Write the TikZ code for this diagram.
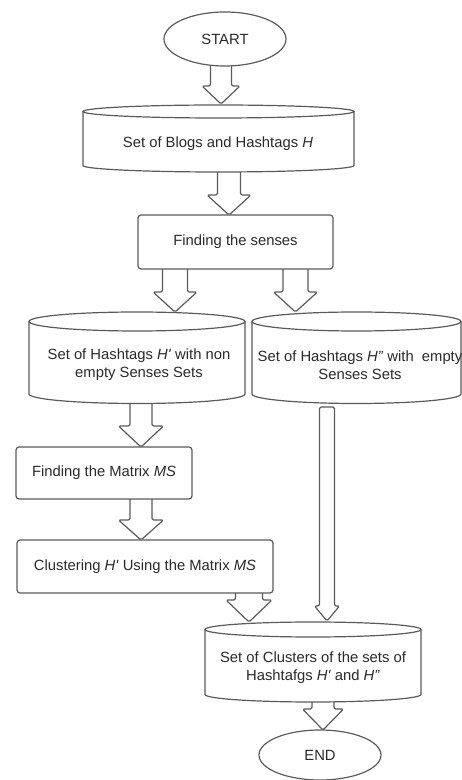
\documentclass[tikz,border=0pt]{standalone}
\usepackage{fontspec}
\setmainfont{Liberation Sans}
\usetikzlibrary{shapes.geometric,calc}

\definecolor{edge}{HTML}{5A5A5A}
\definecolor{ink}{HTML}{2A2A2A}

\tikzset{
  x=1pt, y=1pt,
  outline/.style={draw=edge, line width=1.2pt, fill=white},
  terminal/.style={outline, ellipse, inner sep=0pt, text=ink,
    font=\fontsize{14.8}{18}\selectfont},
  procbox/.style={outline, rectangle, rounded corners=3pt, inner sep=0pt,
    text=ink, font=\fontsize{14.8}{18}\selectfont},
  caption/.style={text=ink, font=\fontsize{14.8}{18}\selectfont,
    align=center, inner sep=0pt},
  flow/.style={outline, rounded corners=1.5pt, line join=round},
}

% storage drum: left x, right x, top centre y, bottom centre y, y radius
\newcommand{\drum}[5]{%
  \draw[outline] (#1,#3) -- (#1,#4)
    arc[start angle=180, end angle=360, x radius={(#2-#1)/2}, y radius=#5]
    -- (#2,#3);
  \draw[outline] ({(#1+#2)/2},#3)
    ellipse[x radius={(#2-#1)/2}, y radius=#5];
}

% block arrow: tail, tip, shaft half width, head half width, head length
\newcommand{\flowarrow}[5]{%
  \draw[flow] let \p1=(#1), \p2=(#2) in
    (\x2-#3pt,\y1) -- (\x2-#3pt,\y2+#5pt) -- (\x2-#4pt,\y2+#5pt)
    -- (\x2,\y2) -- (\x2+#4pt,\y2+#5pt) -- (\x2+#3pt,\y2+#5pt)
    -- (\x2+#3pt,\y1) -- cycle;
}

\newcommand{\Hp}{\textit{H\textquotesingle}}
\newcommand{\Hpp}{\textit{H"}}

\begin{document}
\begin{tikzpicture}
\useasboundingbox (0,0) rectangle (462,780);

% arrow end points
\coordinate (a1s) at (221,720);   \coordinate (a1t) at (221,676);
\coordinate (a2s) at (229,615);   \coordinate (a2t) at (229,565);
\coordinate (a3s) at (175,516);   \coordinate (a3t) at (175,468);
\coordinate (a4s) at (295.5,516); \coordinate (a4t) at (295.5,468);
\coordinate (a5s) at (141,386);   \coordinate (a5t) at (141,333);
\coordinate (a6s) at (141,285);   \coordinate (a6t) at (141,240);
\coordinate (a7s) at (249,190);   \coordinate (a7t) at (249,158);
\coordinate (a8s) at (327,373);   \coordinate (a8t) at (327,159);
\coordinate (a9s) at (323,88);    \coordinate (a9t) at (323,50);

% connectors
\flowarrow{a1s}{a1t}{10.5}{19}{18}
\flowarrow{a2s}{a2t}{11.5}{22}{20}
\flowarrow{a3s}{a3t}{12.5}{22}{20}
\flowarrow{a4s}{a4t}{12.5}{22}{20}
\flowarrow{a5s}{a5t}{11}{22.5}{21}
\flowarrow{a6s}{a6t}{11}{22.5}{20}
\flowarrow{a7s}{a7t}{13.5}{23}{22}
\flowarrow{a8s}{a8t}{7.5}{12.5}{15}
\flowarrow{a9s}{a9t}{11}{20.5}{21}

% terminals
\node[terminal, minimum width=122pt, minimum height=54pt] (start) at (225,741) {START};
\node[terminal, minimum width=122pt, minimum height=50pt] (end) at (320,25) {END};

% data stores
\drum{83}{354}{668.5}{614.5}{6.5}
\node[caption] (blogs) at (218,636) {Set of Blogs and Hashtags \textit{H}};

\drum{29}{245}{458.5}{386}{9.5}
\node[caption] (nonempty) at (139,415) {Set of Hashtags \Hp{} with non\\empty Senses Sets};

\drum{252}{461}{458.5}{386}{9.5}
\node[caption] (empty) at (360,415) {Set of Hashtags \Hpp{} with~ empty\\Senses Sets};

\drum{205}{421}{150.5}{85.5}{7.5}
\node[caption] (clusters) at (313,112) {Set of Clusters of the sets of\\Hashtafgs \Hp{} and \Hpp};

% processes
\node[procbox, minimum width=195pt, minimum height=54pt] (senses) at (235.5,538) {Finding the senses};
\node[procbox, minimum width=176pt, minimum height=52pt] (matrix) at (104,307) {Finding the Matrix \textit{MS}};
\node[procbox, minimum width=256pt, minimum height=53pt] (cluster) at (145,213.5) {Clustering \Hp{} Using the Matrix \textit{MS}};
\end{tikzpicture}
\end{document}
